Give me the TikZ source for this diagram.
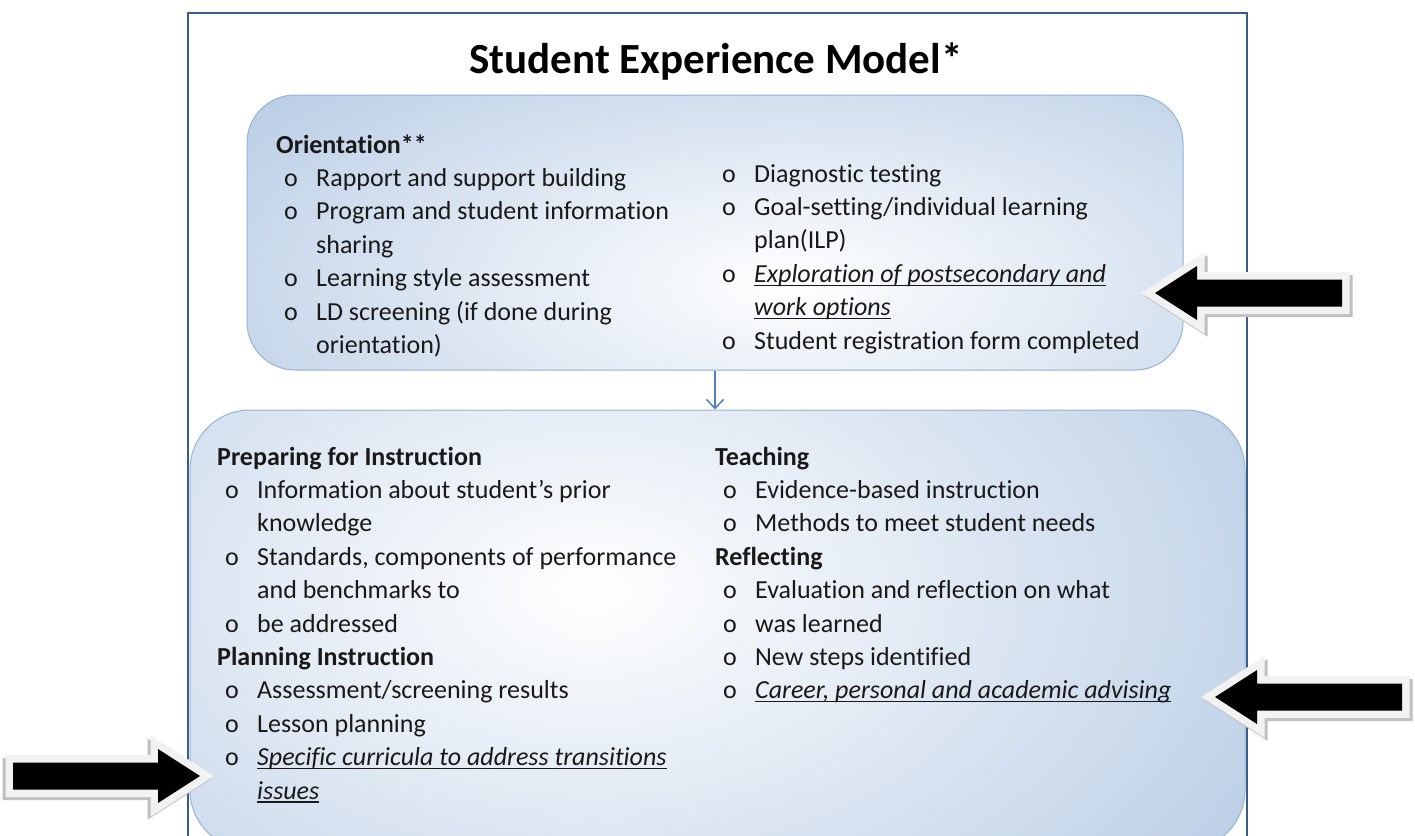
\documentclass[tikz,border=0pt]{standalone}
\usepackage{fontspec}
\setmainfont{Carlito}[Ligatures={NoCommon,NoContextual}]
\usetikzlibrary{arrows.meta}

\definecolor{boxblue}{RGB}{185,205,229}
\definecolor{boxline}{RGB}{150,180,216}
\definecolor{frameblue}{RGB}{56,93,138}
\definecolor{linkblue}{RGB}{79,129,189}
\definecolor{arrowrim}{RGB}{242,242,242}
\definecolor{arrowshade}{RGB}{192,192,192}

\newsavebox\ulbox
\newcommand\hd[1]{\textbf{#1}}
\newcommand\bul[1]{\hspace*{8pt}\makebox[32pt][l]{o}#1}
\newcommand\cnt[1]{\hspace*{40pt}#1}
\newcommand\uit[1]{\sbox\ulbox{\textit{#1}}\rlap{\rule[-3.5pt]{\wd\ulbox}{1.2pt}}\usebox\ulbox}
\newcommand\arrowpath{(0,0) -- (42,-27) -- (42,-13.5) -- (187,-13.5) -- (187,13.5) -- (42,13.5) -- (42,27) -- cycle}

\begin{document}
\begin{tikzpicture}[x=1pt, y=-1pt,
        box/.style={draw=boxline, line width=1pt, fill=boxblue, rounded corners=#1, inner sep=0pt},
        col/.style={anchor=base west, inner sep=0pt, text=black!90, font=\fontsize{26}{33.4}\selectfont},
        bigarrow/.pic={
            \path[fill=arrowshade, draw=arrowshade, line width=15pt, shift={(3,3)}] \arrowpath;
            \path[fill=arrowrim, draw=arrowrim, line width=15pt] \arrowpath;
            \fill[black] \arrowpath;
        }]
        \useasboundingbox (0,0) rectangle (1415,835);
        \clip (0,0) rectangle (1415,835);
        \fill[white] (0,0) rectangle (1415,835);

        % ---title
        \node[anchor=base, inner sep=0pt, font=\bfseries\fontsize{43}{50}\selectfont] (title) at (716,73) {Student Experience Model*};

        % ---boxes
        \node[box=48pt, minimum width=936pt, minimum height=275pt,
            path picture={\shade[inner color=white, outer color=boxblue] ([shift={(75,52)}]path picture bounding box.center) ellipse [x radius=700pt, y radius=300pt];}] (orient) at (715,232.5) {};
        \node[box=60pt, minimum width=1055pt, minimum height=440pt,
            path picture={\shade[inner color=white, outer color=boxblue] ([shift={(-125,-40)}]path picture bounding box.center) ellipse [x radius=800pt, y radius=500pt];}] (instr) at (717.5,630) {};

        \draw[linkblue, line width=1.5pt, -{Straight Barb[length=9pt, width=17pt]}] (orient.south) -- (orient.south |- instr.north);

        \draw[frameblue, line width=2pt] (188,13) rectangle (1247,900);

        % ---orientation
        \node[col] (orientL) at (276,153) {\begin{tabular}[t]{@{}l@{}}
            \hd{Orientation**}\\
            \bul{Rapport and support building}\\
            \bul{Program and student information}\\
            \cnt{sharing}\\
            \bul{Learning style assessment}\\
            \bul{LD screening (if done during}\\
            \cnt{orientation)}
        \end{tabular}};
        \node[col] (orientR) at (714,182) {\begin{tabular}[t]{@{}l@{}}
            \bul{Diagnostic testing}\\
            \bul{Goal-setting/individual learning}\\
            \cnt{plan(ILP)}\\
            \bul{\uit{Exploration of postsecondary and}}\\
            \cnt{\uit{work options}}\\
            \bul{Student registration form completed}
        \end{tabular}};

        % ---instruction
        \node[col] (instrL) at (217,465) {\begin{tabular}[t]{@{}l@{}}
            \hd{Preparing for Instruction}\\
            \bul{Information about student’s prior}\\
            \cnt{knowledge}\\
            \bul{Standards, components of performance}\\
            \cnt{and benchmarks to}\\
            \bul{be addressed}\\
            \hd{Planning Instruction}\\
            \bul{Assessment/screening results}\\
            \bul{Lesson planning}\\
            \bul{\uit{Specific curricula to address transitions}}\\
            \cnt{\uit{issues}}
        \end{tabular}};
        \node[col] (instrR) at (715,465) {\begin{tabular}[t]{@{}l@{}}
            \hd{Teaching}\\
            \bul{Evidence-based instruction}\\
            \bul{Methods to meet student needs}\\
            \hd{Reflecting}\\
            \bul{Evaluation and reflection on what}\\
            \bul{was learned}\\
            \bul{New steps identified}\\
            \bul{\uit{Career, personal and academic advising}}
        \end{tabular}};

        % ---arrows
        \pic at (1155,293) {bigarrow};
        \pic at (1215,697) {bigarrow};
        \pic[xscale=-1] at (200,776) {bigarrow};
    \end{tikzpicture}
\end{document}
